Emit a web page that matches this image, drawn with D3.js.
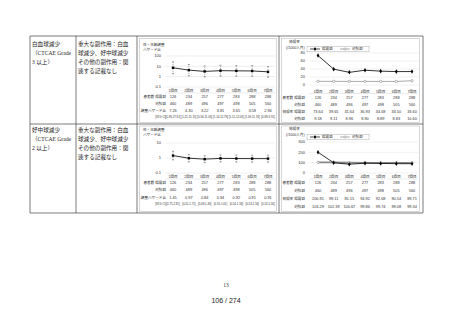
<!DOCTYPE html>
<html>
<head>
<meta charset="utf-8">
<script src="https://cdn.jsdelivr.net/npm/d3@7"></script>
<style>
  body { margin: 0; background: #fff; }
  svg text { font-family: "Liberation Sans", "Noto Sans CJK JP", sans-serif; }
</style>
</head>
<body>
<svg id="page" width="453" height="320"></svg>
<script>
// categories and row texts
var categories = ["1回目", "2回目", "3回目", "4回目", "5回目", "6回目", "7回目"];
var col1_wbc = ["白血球減少", "（CTCAE Grade", "3 以上）"];
var col1_neu = ["好中球減少", "（CTCAE Grade", "2 以上）"];
var col2_text = ["重大な副作用：白血", "球減少、好中球減少", "その他の副作用：関", "連する記載なし"];

// patient counts (same in both rows)
var nExposed = [126, 234, 257, 277, 283, 288, 288];
var nControl = [460, 489, 496, 497, 498, 505, 560];

// row 1: white blood cell decrease
var hr_wbc = [7.26, 4.30, 3.22, 3.81, 3.65, 3.58, 2.94];
var hrLo_wbc = [1.89, 1.22, 0.94, 1.14, 1.11, 1.09, 0.89];
var hrHi_wbc = [27.91, 15.15, 11.03, 12.78, 12.03, 11.76, 9.70];
var rateExp_wbc = [73.64, 39.65, 31.64, 36.93, 34.68, 33.50, 33.60];
var rateCtl_wbc = [9.18, 9.11, 8.96, 8.90, 8.89, 8.83, 10.60];

// row 2: neutrophil decrease
var hr_neu = [1.45, 0.97, 0.84, 0.94, 0.92, 0.91, 0.91];
var hrLo_neu = [0.75, 0.55, 0.49, 0.55, 0.54, 0.53, 0.53];
var hrHi_neu = [2.81, 1.71, 1.43, 1.61, 1.58, 1.56, 1.56];
var rateExp_neu = [200.91, 99.11, 85.15, 94.92, 92.68, 90.54, 89.71];
var rateCtl_neu = [103.29, 102.39, 100.67, 99.86, 99.74, 99.08, 99.34];

var hrTicks_wbc = [0.1, 1, 10, 100];
var hrTicks_neu = [0.1, 1, 10];
var rateTicks_wbc = [0, 20, 40, 60, 80];
var rateTicks_neu = [0, 100, 200, 300];

var svg = d3.select("#page");

var tableLeft = 30, tableRight = 423;
var colX = [30, 76, 137, 279, 423];
var rowTops = [36, 124, 213];

// table grid
svg.append("g").selectAll("line.v")
    .data(colX)
    .enter().append("line")
    .attr("x1", d => d).attr("x2", d => d)
    .attr("y1", rowTops[0]).attr("y2", rowTops[2])
    .style("stroke", "#444").style("stroke-width", 0.7);
svg.append("g").selectAll("line.h")
    .data(rowTops)
    .enter().append("line")
    .attr("x1", tableLeft).attr("x2", tableRight)
    .attr("y1", d => d).attr("y2", d => d)
    .style("stroke", "#444").style("stroke-width", 0.7);

function cellText(lines, x, y) {
    svg.append("g").selectAll("text")
        .data(lines)
        .enter().append("text")
        .attr("x", x)
        .attr("y", (d, i) => y + i * 9)
        .style("font-family", "'Liberation Serif', 'Noto Sans CJK JP', serif")
        .style("font-size", "5.6px")
        .style("fill", "#222")
        .text(d => d);
}

function fmt2(v) { return v.toFixed(2); }

// L: vertical positions inside one row (absolute y)
function drawRow(L, d) {
    // ---- left chart: hazard ratio on log axis ----
    var g = svg.append("g");
    g.append("rect")
        .attr("x", 139.5).attr("y", L.boxTop)
        .attr("width", 137).attr("height", L.boxBottom - L.boxTop)
        .style("fill", "none").style("stroke", "#bbb").style("stroke-width", 0.6);

    g.append("text").attr("x", 143).attr("y", L.title)
        .style("font-size", "3.6px").style("fill", "#333").text("性・年齢調整");
    g.append("text").attr("x", 143).attr("y", L.title + 5.5)
        .style("font-size", "3.6px").style("fill", "#333").text("ハザード比");

    var x = d3.scalePoint().domain(categories).range([173, 268]);
    var y = d3.scaleLog().domain([0.1, d.hrTicks[d.hrTicks.length - 1]])
        .range([L.hrBottom, L.hrTop]);

    g.selectAll(".grid")
        .data(d.hrTicks)
        .enter().append("line")
        .attr("x1", 165).attr("x2", 275)
        .attr("y1", v => y(v)).attr("y2", v => y(v))
        .style("stroke", "#ddd").style("stroke-width", 0.5);
    g.selectAll(".tick")
        .data(d.hrTicks)
        .enter().append("text")
        .attr("x", 161).attr("y", v => y(v) + 1.4)
        .attr("text-anchor", "end")
        .style("font-size", "4px").style("fill", "#333")
        .text(v => v);

    // error bars
    var idx = d3.range(categories.length);
    g.selectAll(".err")
        .data(idx)
        .enter().append("line")
        .attr("x1", i => x(categories[i])).attr("x2", i => x(categories[i]))
        .attr("y1", i => y(d.hrLo[i])).attr("y2", i => y(d.hrHi[i]))
        .style("stroke", "#555").style("stroke-width", 0.5)
        .style("stroke-dasharray", "1,0.8");
    ["hrLo", "hrHi"].forEach(function(key) {
        g.selectAll(".cap" + key)
            .data(idx)
            .enter().append("line")
            .attr("x1", i => x(categories[i]) - 1).attr("x2", i => x(categories[i]) + 1)
            .attr("y1", i => y(d[key][i])).attr("y2", i => y(d[key][i]))
            .style("stroke", "#444").style("stroke-width", 0.5);
    });

    var line = d3.line().x((v, i) => x(categories[i])).y(v => y(v));
    g.append("path").datum(d.hr)
        .attr("d", line)
        .style("fill", "none").style("stroke", "#000").style("stroke-width", 0.8);
    g.selectAll(".pt")
        .data(d.hr)
        .enter().append("rect")
        .attr("x", (v, i) => x(categories[i]) - 1.2).attr("y", v => y(v) - 1.2)
        .attr("width", 2.4).attr("height", 2.4)
        .style("fill", "#000");

    // category labels
    g.append("line").attr("x1", 165).attr("x2", 275)
        .attr("y1", L.hrCat + 1).attr("y2", L.hrCat + 1)
        .style("stroke", "#ccc").style("stroke-width", 0.4);
    g.selectAll(".cat")
        .data(categories)
        .enter().append("text")
        .attr("x", c => x(c)).attr("y", L.hrCat)
        .attr("text-anchor", "middle")
        .style("font-size", "3.6px").style("fill", "#333")
        .text(c => c);

    // table under chart
    var leftRows = [
        { label: "患者数 曝露群", vals: nExposed.map(String), size: 3.9 },
        { label: "対照群", vals: nControl.map(String), size: 3.9 },
        { label: "調整ハザード比", vals: d.hr.map(fmt2), size: 3.9 },
        { label: "[95% CI]", vals: idx.map(i => "[" + fmt2(d.hrLo[i]) + "-" + fmt2(d.hrHi[i]) + "]"), size: 2.8 }
    ];
    leftRows.forEach(function(r, k) {
        var ry = L.hrRows[k];
        g.append("text").attr("x", 166).attr("y", ry)
            .attr("text-anchor", "end")
            .style("font-size", (r.size === 2.8 ? 2.8 : 3.6) + "px").style("fill", "#333")
            .text(r.label);
        g.selectAll(null)
            .data(r.vals)
            .enter().append("text")
            .attr("x", (v, i) => x(categories[i])).attr("y", ry)
            .attr("text-anchor", "middle")
            .style("font-size", r.size + "px").style("fill", "#333")
            .text(v => v);
    });

    // ---- right chart: incidence rate ----
    var g2 = svg.append("g");
    g2.append("rect")
        .attr("x", 281.5).attr("y", L.boxTop)
        .attr("width", 138).attr("height", L.boxBottom - L.boxTop)
        .style("fill", "none").style("stroke", "#bbb").style("stroke-width", 0.6);
    g2.append("text").attr("x", 289).attr("y", L.rTitle)
        .style("font-size", "3.6px").style("fill", "#333").text("発現率");
    g2.append("text").attr("x", 286).attr("y", L.rTitle + 6)
        .style("font-size", "3.6px").style("fill", "#333").text("(/1000人月)");

    // legend
    var ly = L.legend;
    g2.append("rect").attr("x", 307).attr("y", ly - 2.8)
        .attr("width", 62).attr("height", 5.6)
        .style("fill", "#fff").style("stroke", "#999").style("stroke-width", 0.4);
    g2.append("line").attr("x1", 310).attr("x2", 320)
        .attr("y1", ly).attr("y2", ly)
        .style("stroke", "#000").style("stroke-width", 0.7);
    g2.append("path").attr("d", d3.symbol(d3.symbolDiamond, 5)())
        .attr("transform", "translate(315," + ly + ")").style("fill", "#000");
    g2.append("text").attr("x", 322).attr("y", ly + 1.4)
        .style("font-size", "3.6px").style("fill", "#333").text("曝露群");
    g2.append("line").attr("x1", 340).attr("x2", 350)
        .attr("y1", ly).attr("y2", ly)
        .style("stroke", "#888").style("stroke-width", 0.7);
    g2.append("circle").attr("cx", 345).attr("cy", ly).attr("r", 1.1)
        .style("fill", "#fff").style("stroke", "#666").style("stroke-width", 0.4);
    g2.append("text").attr("x", 352).attr("y", ly + 1.4)
        .style("font-size", "3.6px").style("fill", "#333").text("対照群");

    var x2 = d3.scalePoint().domain(categories).range([318, 412]);
    var y2 = d3.scaleLinear().domain([0, d.rateTicks[d.rateTicks.length - 1]])
        .range([L.rateBottom, L.rateTop]);

    g2.selectAll(".grid")
        .data(d.rateTicks)
        .enter().append("line")
        .attr("x1", 309).attr("x2", 418)
        .attr("y1", v => y2(v)).attr("y2", v => y2(v))
        .style("stroke", "#e2e2e2").style("stroke-width", 0.5);
    g2.selectAll(".tick")
        .data(d.rateTicks)
        .enter().append("text")
        .attr("x", 305).attr("y", v => y2(v) + 1.4)
        .attr("text-anchor", "end")
        .style("font-size", "4px").style("fill", "#333")
        .text(v => v);

    var line2 = d3.line().x((v, i) => x2(categories[i])).y(v => y2(v));
    g2.append("path").datum(d.rateCtl)
        .attr("d", line2)
        .style("fill", "none").style("stroke", "#888").style("stroke-width", d.ctlWidth);
    g2.selectAll(".ctl")
        .data(d.rateCtl)
        .enter().append("circle")
        .attr("cx", (v, i) => x2(categories[i])).attr("cy", v => y2(v)).attr("r", 1.2)
        .style("fill", "#fff").style("stroke", "#666").style("stroke-width", 0.45);
    g2.append("path").datum(d.rateExp)
        .attr("d", line2)
        .style("fill", "none").style("stroke", "#000").style("stroke-width", 0.8);
    g2.selectAll(".exp")
        .data(d.rateExp)
        .enter().append("path")
        .attr("d", d3.symbol(d3.symbolDiamond, 6)())
        .attr("transform", (v, i) => "translate(" + x2(categories[i]) + "," + y2(v) + ")")
        .style("fill", "#000");

    g2.selectAll(".cat")
        .data(categories)
        .enter().append("text")
        .attr("x", c => x2(c)).attr("y", L.rateCat)
        .attr("text-anchor", "middle")
        .style("font-size", "3.6px").style("fill", "#333")
        .text(c => c);
    g2.append("line").attr("x1", 309).attr("x2", 418)
        .attr("y1", L.rateCat + 1).attr("y2", L.rateCat + 1)
        .style("stroke", "#ccc").style("stroke-width", 0.4);

    var rightRows = [
        { label: "患者数 曝露群", vals: nExposed.map(String) },
        { label: "対照群", vals: nControl.map(String) },
        { label: "発現率 曝露群", vals: d.rateExp.map(fmt2) },
        { label: "対照群", vals: d.rateCtl.map(fmt2) }
    ];
    rightRows.forEach(function(r, k) {
        var ry = L.rateRows[k];
        g2.append("text").attr("x", 305).attr("y", ry)
            .attr("text-anchor", "end")
            .style("font-size", "3.6px").style("fill", "#333")
            .text(r.label);
        g2.selectAll(null)
            .data(r.vals)
            .enter().append("text")
            .attr("x", (v, i) => x2(categories[i])).attr("y", ry)
            .attr("text-anchor", "middle")
            .style("font-size", "3.9px").style("fill", "#333")
            .text(v => v);
    });
}

cellText(col1_wbc, 32, 45.5);
cellText(col2_text, 78, 45.5);
cellText(col1_neu, 32, 132);
cellText(col2_text, 78, 132);

drawRow({
    boxTop: 38.5, boxBottom: 122.5, title: 45.5, rTitle: 43, legend: 49,
    hrTop: 56, hrBottom: 87, hrCat: 92, hrRows: [98, 105, 112, 117.5],
    rateTop: 53, rateBottom: 85, rateCat: 92.5, rateRows: [99, 106, 113, 120]
}, {
    hr: hr_wbc, hrLo: hrLo_wbc, hrHi: hrHi_wbc, hrTicks: hrTicks_wbc,
    rateExp: rateExp_wbc, rateCtl: rateCtl_wbc, rateTicks: rateTicks_wbc, ctlWidth: 0.7
});
drawRow({
    boxTop: 126, boxBottom: 211.5, title: 130.5, rTitle: 129.5, legend: 137,
    hrTop: 143, hrBottom: 173, hrCat: 178, hrRows: [184, 191, 198.5, 205],
    rateTop: 142, rateBottom: 173, rateCat: 178, rateRows: [184, 192, 200, 207.5]
}, {
    hr: hr_neu, hrLo: hrLo_neu, hrHi: hrHi_neu, hrTicks: hrTicks_neu,
    rateExp: rateExp_neu, rateCtl: rateCtl_neu, rateTicks: rateTicks_neu, ctlWidth: 1.6
});

// page footer
svg.append("text").attr("x", 226).attr("y", 287)
    .attr("text-anchor", "middle")
    .style("font-family", "'Liberation Serif', serif")
    .style("font-size", "5.5px").style("fill", "#333").text("13");
svg.append("text").attr("x", 226).attr("y", 302.5)
    .attr("text-anchor", "middle")
    .style("font-size", "7px").style("fill", "#222").text("106 / 274");
</script>
</body>
</html>
